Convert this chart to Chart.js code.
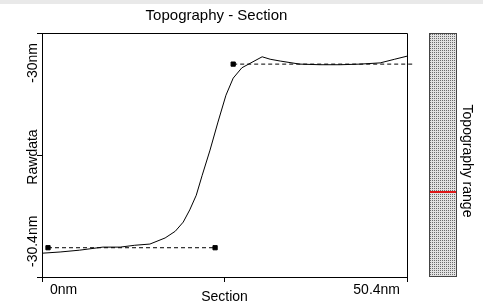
<!DOCTYPE html>
<html>
<head>
<meta charset="utf-8">
<script src="https://cdn.jsdelivr.net/npm/chart.js@4.4.1/dist/chart.umd.min.js"></script>
<style>
  html, body { margin: 0; padding: 0; background: #fff; }
  #wrap { width: 483px; height: 303px; }
</style>
</head>
<body>
<div id="wrap"><canvas id="section-chart" width="483" height="303"></canvas></div>
<script>
// Section profile (x in nm, height in nm)
var profileX = [0, 2.5, 5.2, 8.4, 10.8, 12.8, 14.9, 17.0, 18.4, 19.5, 20.4, 21.3, 22.1, 23.2, 24.3,
                25.4, 26.4, 27.6, 29.0, 30.4, 31.5, 32.9, 35.6, 38.4, 41.2, 43.9, 46.7, 48.7, 50.4];
var profileY = [-30.361, -30.359, -30.356, -30.351, -30.351, -30.348, -30.346, -30.336, -30.325,
                -30.310, -30.290, -30.266, -30.234, -30.192, -30.146, -30.102, -30.074, -30.057,
                -30.048, -30.039, -30.043, -30.046, -30.051, -30.052, -30.052, -30.051, -30.049,
                -30.043, -30.038];

// reference cursors (dashed lines with square handles)
var lowerRefX = [0.83, 23.9];
var lowerRefY = [-30.352, -30.352];
var upperRefX = [26.4, 51.2];
var upperRefY = [-30.051, -30.051];

// axes
var xTicks = [0, 25.2, 50.4];
var xTickLabels = ["0nm", "", "50.4nm"];
var yTicks = [-30.4, -30.2, -30];
var yTickLabels = ["-30.4nm", "", "-30nm"];
var colorbarMarker = 0.35; // fraction from bottom of the range bar

function toPoints(xs, ys) {
    return xs.map(function (v, i) { return { x: v, y: ys[i] }; });
}

var FONT = "14px 'Liberation Sans', Arial, sans-serif";

// dotted fill for the range bar
function stipple(ctx) {
    var c = document.createElement("canvas");
    c.width = 2; c.height = 2;
    var g = c.getContext("2d");
    g.fillStyle = "#e2e2e2";
    g.fillRect(0, 0, 2, 2);
    g.fillStyle = "#6c6c6c";
    g.fillRect(0, 0, 1, 1);
    return ctx.createPattern(c, "repeat");
}

var decor = {
    id: "decor",
    beforeDraw: function (chart) {
        var ctx = chart.ctx;
        ctx.save();
        ctx.fillStyle = "#fff";
        ctx.fillRect(0, 0, chart.width, chart.height);
        ctx.fillStyle = "#e9e9e9";
        ctx.fillRect(0, 0, chart.width, 4);
        ctx.restore();
    },
    afterDraw: function (chart) {
        var ctx = chart.ctx, a = chart.chartArea;
        var xs = chart.scales.x, ys = chart.scales.y;
        ctx.save();
        ctx.strokeStyle = "#000";
        ctx.lineWidth = 1;
        // top and right frame lines
        ctx.beginPath();
        ctx.moveTo(a.left, a.top + 0.5);
        ctx.lineTo(Math.round(a.right) + 0.5, a.top + 0.5);
        ctx.lineTo(Math.round(a.right) + 0.5, a.bottom);
        ctx.stroke();

        ctx.fillStyle = "#000";
        ctx.font = "15px 'Liberation Sans', Arial, sans-serif";
        ctx.textAlign = "center";
        ctx.textBaseline = "alphabetic";
        ctx.fillText("Topography - Section", (a.left + a.right) / 2 - 8, 20);

        // x tick labels, kept inside the axis ends
        ctx.font = FONT;
        xTicks.forEach(function (v, i) {
            var lbl = xTickLabels[i];
            if (!lbl) return;
            var px = xs.getPixelForValue(v);
            if (i === 0) { ctx.textAlign = "left"; px += 8; }
            else { ctx.textAlign = "right"; px -= 7; }
            ctx.fillText(lbl, px, 294);
        });
        ctx.textAlign = "center";
        ctx.fillText("Section", (a.left + a.right) / 2, 301);

        // y tick labels and title, rotated
        yTicks.forEach(function (v, i) {
            var lbl = yTickLabels[i];
            if (!lbl) return;
            var py = ys.getPixelForValue(v);
            ctx.save();
            ctx.translate(37, i === 0 ? py - 10 : py + 10);
            ctx.rotate(-Math.PI / 2);
            ctx.textAlign = i === 0 ? "left" : "right";
            ctx.fillText(lbl, 0, 0);
            ctx.restore();
        });
        ctx.save();
        ctx.translate(37, (a.top + a.bottom) / 2 + 2);
        ctx.rotate(-Math.PI / 2);
        ctx.textAlign = "center";
        ctx.fillText("Rawdata", 0, 0);
        ctx.restore();

        // range bar
        var bx = 429, bw = 28;
        ctx.fillStyle = stipple(ctx);
        ctx.fillRect(bx, a.top, bw, a.bottom - a.top);
        ctx.strokeStyle = "#444";
        ctx.strokeRect(bx + 0.5, a.top + 0.5, bw - 1, a.bottom - a.top - 1);
        var my = Math.round(a.bottom - colorbarMarker * (a.bottom - a.top)) - 1;
        ctx.fillStyle = "#e01818";
        ctx.fillRect(bx + 1, my, bw - 2, 2);

        ctx.fillStyle = "#000";
        ctx.save();
        ctx.translate(463, (a.top + a.bottom) / 2 + 6);
        ctx.rotate(Math.PI / 2);
        ctx.textAlign = "center";
        ctx.fillText("Topography range", 0, 0);
        ctx.restore();
        ctx.restore();
    }
};

var refStyle = {
    borderColor: "#000",
    backgroundColor: "#000",
    borderWidth: 1,
    borderDash: [4, 3],
    pointStyle: "rect",
    pointRadius: 3,
    pointBorderWidth: 1,
    clip: false
};

var chartData = {
    datasets: [
        Object.assign({ label: "Lower cursor", data: toPoints(lowerRefX, lowerRefY) }, refStyle),
        Object.assign({ label: "Upper cursor", data: toPoints(upperRefX, upperRefY) }, refStyle),
        {
            label: "Raw data",
            data: toPoints(profileX, profileY),
            borderColor: "#000",
            borderWidth: 1,
            pointRadius: 0,
            tension: 0
        }
    ]
};

var chartOptions = {
    responsive: false,
    animation: false,
    layout: { padding: { left: 0, right: 76, top: 33, bottom: 0 } },
    plugins: { legend: { display: false }, tooltip: { enabled: false } },
    scales: {
        x: {
            type: "linear",
            min: 0,
            max: 50.4,
            afterBuildTicks: function (scale) {
                scale.ticks = xTicks.map(function (v) { return { value: v }; });
            },
            afterFit: function (scale) { scale.height = 26; },
            ticks: { display: false },
            grid: { drawOnChartArea: false, drawTicks: true, tickLength: 5, color: "#000" },
            border: { display: true, color: "#000" }
        },
        y: {
            type: "linear",
            min: -30.4,
            max: -30,
            afterBuildTicks: function (scale) {
                scale.ticks = yTicks.map(function (v) { return { value: v }; });
            },
            afterFit: function (scale) { scale.width = 42; },
            ticks: { display: false },
            grid: { drawOnChartArea: false, drawTicks: true, tickLength: 5, color: "#000" },
            border: { display: true, color: "#000" }
        }
    }
};

var sectionChart = new Chart(document.getElementById("section-chart"), {
    type: "line",
    data: chartData,
    options: chartOptions,
    plugins: [decor]
});
</script>
</body>
</html>
